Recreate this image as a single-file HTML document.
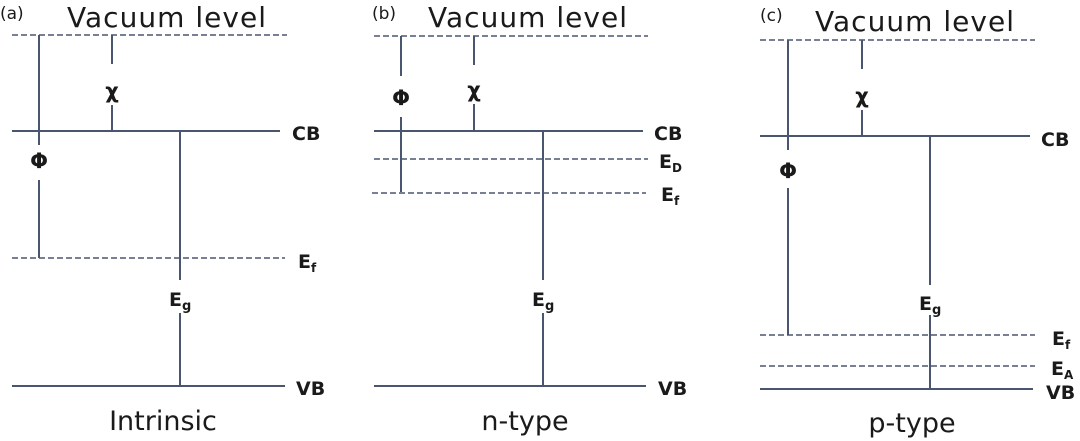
<!DOCTYPE html>
<html><head><meta charset="utf-8"><style>
html,body{margin:0;padding:0;background:#fff;}
svg{display:block;}
text{font-family:"DejaVu Sans","Liberation Sans",sans-serif;fill:#1a1a1a;}
.s{stroke:#4a5670;stroke-width:2;fill:none;}
.d{stroke:#4a5670;stroke-width:1.6;fill:none;stroke-dasharray:6,3;}
.big{font-size:28px;}
.lab{font-size:19px;font-weight:bold;}
.sm{font-size:17px;}
.gr{font-size:21px;font-weight:bold;}
.ttl{font-size:27px;}
</style></head><body>
<svg width="1080" height="441" viewBox="0 0 1080 441">
<!-- (a) -->
<text x="0" y="19" class="sm">(a)</text>
<text x="67" y="27" class="big" textLength="199">Vacuum level</text>
<line class="d" x1="12" y1="35" x2="287" y2="35"/>
<line class="s" x1="39" y1="35" x2="39" y2="145"/>
<line class="s" x1="39" y1="180" x2="39" y2="258"/>
<text x="39" y="168" class="gr" text-anchor="middle">Φ</text>
<line class="s" x1="112" y1="35" x2="112" y2="64"/>
<line class="s" x1="112" y1="105" x2="112" y2="130"/>
<text x="112" y="98" class="gr" text-anchor="middle">χ</text>
<line class="s" x1="12" y1="131" x2="280" y2="131"/>
<text x="292" y="140" class="lab">CB</text>
<line class="s" x1="180" y1="131" x2="180" y2="280"/>
<line class="s" x1="180" y1="313" x2="180" y2="386"/>
<text x="169" y="306" class="lab">E<tspan font-size="13" dy="4">g</tspan></text>
<line class="d" x1="12" y1="258" x2="285" y2="258"/>
<text x="298" y="268" class="lab">E<tspan font-size="12" dy="4">f</tspan></text>
<line class="s" x1="12" y1="386" x2="285" y2="386"/>
<text x="296" y="395" class="lab">VB</text>
<text x="163" y="430" class="ttl" text-anchor="middle">Intrinsic</text>
<!-- (b) -->
<text x="372" y="19" class="sm">(b)</text>
<text x="428" y="27" class="big" textLength="199">Vacuum level</text>
<line class="d" x1="374" y1="36" x2="648" y2="36"/>
<line class="s" x1="401" y1="36" x2="401" y2="76"/>
<line class="s" x1="401" y1="117" x2="401" y2="192"/>
<text x="401" y="105" class="gr" text-anchor="middle">Φ</text>
<line class="s" x1="474" y1="36" x2="474" y2="65"/>
<line class="s" x1="474" y1="104" x2="474" y2="131"/>
<text x="474" y="97" class="gr" text-anchor="middle">χ</text>
<line class="s" x1="374" y1="131" x2="643" y2="131"/>
<text x="654" y="140" class="lab">CB</text>
<line class="d" x1="374" y1="159" x2="648" y2="159"/>
<text x="659" y="168" class="lab">E<tspan font-size="12" dy="4">D</tspan></text>
<line class="d" x1="372" y1="193" x2="646" y2="193"/>
<text x="661" y="201" class="lab">E<tspan font-size="12" dy="4">f</tspan></text>
<line class="s" x1="543" y1="131" x2="543" y2="280"/>
<line class="s" x1="543" y1="313" x2="543" y2="386"/>
<text x="532" y="306" class="lab">E<tspan font-size="13" dy="4">g</tspan></text>
<line class="s" x1="374" y1="386" x2="646" y2="386"/>
<text x="658" y="395" class="lab">VB</text>
<text x="525" y="430" class="ttl" text-anchor="middle">n-type</text>
<!-- (c) -->
<text x="760" y="21" class="sm">(c)</text>
<text x="815" y="31" class="big" textLength="199">Vacuum level</text>
<line class="d" x1="760" y1="40" x2="1035" y2="40"/>
<line class="s" x1="788" y1="40" x2="788" y2="150"/>
<line class="s" x1="788" y1="188" x2="788" y2="335"/>
<text x="788" y="178" class="gr" text-anchor="middle">Φ</text>
<line class="s" x1="862" y1="40" x2="862" y2="69"/>
<line class="s" x1="862" y1="110" x2="862" y2="136"/>
<text x="862" y="103" class="gr" text-anchor="middle">χ</text>
<line class="s" x1="760" y1="136" x2="1030" y2="136"/>
<text x="1041" y="146" class="lab">CB</text>
<line class="s" x1="930" y1="136" x2="930" y2="285"/>
<line class="s" x1="930" y1="315" x2="930" y2="389"/>
<text x="919" y="310" class="lab">E<tspan font-size="13" dy="4">g</tspan></text>
<line class="d" x1="760" y1="335" x2="1035" y2="335"/>
<text x="1052" y="345" class="lab">E<tspan font-size="12" dy="4">f</tspan></text>
<line class="d" x1="760" y1="366" x2="1035" y2="366"/>
<text x="1051" y="375" class="lab">E<tspan font-size="12" dy="4">A</tspan></text>
<line class="s" x1="760" y1="389" x2="1033" y2="389"/>
<text x="1046" y="399" class="lab">VB</text>
<text x="912" y="432" class="ttl" text-anchor="middle">p-type</text>
</svg>
</body></html>
